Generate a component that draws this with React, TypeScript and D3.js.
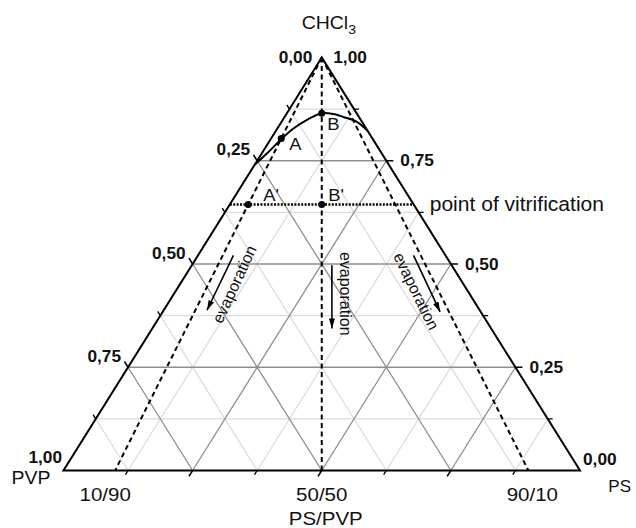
import React from "react";
import * as d3 from "d3";

// tick fractions along every axis
const majorTicks = [0.25, 0.5, 0.75];
const minorTicks = [0.125, 0.375, 0.625, 0.875];

// labelled values on the two side axes
const sideValues = [0, 0.25, 0.5, 0.75, 1];
const leftLabels = ["0,00", "0,25", "0,50", "0,75", "1,00"]; // PVP
const rightLabels = ["1,00", "0,75", "0,50", "0,25", "0,00"]; // CHCl3

// PS/PVP ratios of the dashed composition lines
const ratioLines = [0.1, 0.5, 0.9];
const ratioLabels = ["10/90", "50/50", "90/10"];

// CHCl3 fraction at the point of vitrification
const vitrification = 0.644;

// binodal curve: PS/(PS+PVP) ratio and CHCl3 fraction
const binodalRatio = [0, 0.044, 0.107, 0.182, 0.311, 0.5, 0.67, 0.79, 0.937, 1.0];
const binodalCHCl3 = [0.74, 0.768, 0.804, 0.828, 0.849, 0.865, 0.863, 0.856, 0.844, 0.822];

// marked points
const pointNames = ["A", "B", "A'", "B'"];
const pointRatio = [0.1, 0.5, 0.1, 0.5];
const pointCHCl3 = [0.804, 0.865, vitrification, vitrification];

// evaporation arrows [ratio, CHCl3] start -> end
const arrowStart = [[0.143, 0.521], [0.539, 0.497], [0.871, 0.521]];
const arrowEnd = [[0.137, 0.388], [0.53, 0.344], [0.872, 0.384]];
const evapCenter = [[0.192, 0.451], [0.579, 0.428], [0.823, 0.434]];
const evapAngle = [-65, 90, 64];

const W = 636;
const H = 528;
const font = "'Liberation Sans', Arial, Helvetica, sans-serif";
const stretch = "scale(1.08,1)";

const xS = d3.scaleLinear().domain([0, 1]).range([63.5, 580]);
const yS = d3.scaleLinear().domain([0, 1]).range([470.5, 57.5]);

// position from ratio r = PS/(PS+PVP) and CHCl3 fraction a
const pos = (r: number, a: number): [number, number] => [xS(a / 2 + (1 - a) * r), yS(a)];

const top = pos(0.5, 1);
const left = pos(0, 0);
const right = pos(1, 0);

const unit = (p: [number, number], q: [number, number]) => {
  const dx = q[0] - p[0];
  const dy = q[1] - p[1];
  const l = Math.hypot(dx, dy);
  return [dx / l, dy / l];
};
const leftTickDir = unit(right, top); // up-left, parallel to right side
const bottomTickDir = unit(top, left); // down-left, parallel to left side
const rightTickDir = [1, 0];

const seg = (p: [number, number], q: [number, number]) => `M${p[0]},${p[1]}L${q[0]},${q[1]}`;

const pointLabelOffset: Record<string, [number, number]> = {
  A: [8, 12],
  B: [5.5, 16.5],
  "A'": [15, -4],
  "B'": [6.5, -4],
};

export default function App() {
  const gridPaths = (vals: number[]) =>
    vals
      .map(
        (v) =>
          seg(pos(0, v), pos(1, v)) +
          seg(pos(v, 0), pos(1, 1 - v)) +
          seg(pos(1 - v, 0), pos(0, 1 - v))
      )
      .join("");

  const tickPath = (vals: number[], len: number) =>
    vals
      .map((v) => {
        const pl = pos(0, 1 - v);
        const pr = pos(1, v);
        const pb = pos(v, 0);
        return (
          seg(pl, [pl[0] + leftTickDir[0] * len, pl[1] + leftTickDir[1] * len]) +
          seg(pr, [pr[0] + rightTickDir[0] * len, pr[1]]) +
          seg(pb, [pb[0] + bottomTickDir[0] * len, pb[1] + bottomTickDir[1] * len])
        );
      })
      .join("");

  const binodal = d3
    .line<number>()
    .x((_, i) => pos(binodalRatio[i], binodalCHCl3[i])[0])
    .y((_, i) => pos(binodalRatio[i], binodalCHCl3[i])[1])
    .curve(d3.curveCatmullRom.alpha(0.5))(binodalRatio);

  const tickLabel = { fontFamily: font, fontSize: 16, fontWeight: 700 as const, fill: "#111" };

  return (
    <svg width={W} height={H} style={{ position: "absolute", left: 0, top: 0, background: "#fff" }}>
      <defs>
        <marker id="ah" viewBox="0 0 10 6" refX="10" refY="3" markerWidth="10" markerHeight="6"
          markerUnits="userSpaceOnUse" orient="auto">
          <path d="M0,0L10,3L0,6z" fill="#000" />
        </marker>
      </defs>

      {/* grid */}
      <path d={gridPaths(minorTicks)} stroke="#dcdcdc" strokeWidth={1.3} fill="none" />
      <path d={gridPaths(majorTicks)} stroke="#8e8e8e" strokeWidth={1.3} fill="none" />

      {/* dashed composition lines */}
      {ratioLines.map((r) => (
        <path key={r} d={seg(top, pos(r, 0))} stroke="#000" strokeWidth={2} strokeDasharray="5 3.5" fill="none" />
      ))}

      {/* point of vitrification */}
      <path d={seg(pos(0, vitrification), pos(1, vitrification))} stroke="#000" strokeWidth={2.6}
        strokeDasharray="2 1.4" fill="none" />

      {/* binodal */}
      <path d={binodal ?? ""} stroke="#000" strokeWidth={2} fill="none" />

      {/* triangle */}
      <path d={`M${top[0]},${top[1]}L${left[0]},${left[1]}L${right[0]},${right[1]}Z`} stroke="#000"
        strokeWidth={2} fill="none" strokeLinejoin="miter" />

      {/* ticks */}
      <path d={tickPath(majorTicks, 7)} stroke="#000" strokeWidth={1.6} fill="none" />
      <path d={tickPath(minorTicks, 5)} stroke="#000" strokeWidth={1.4} fill="none" />

      {/* side axis labels */}
      {sideValues.map((v, i) => {
        const p = pos(0, 1 - v);
        let dx = -7, dy = -5.5;
        if (v === 0) { dx = -9.5; dy = 5.5; }
        if (v === 1) { dx = -1.5; dy = -7.5; }
        return (
          <text key={"l" + i} transform={`translate(${p[0] + dx},${p[1] + dy}) ${stretch}`} textAnchor="end" {...tickLabel}>
            {leftLabels[i]}
          </text>
        );
      })}
      {sideValues.map((v, i) => {
        const a = 1 - v;
        const p = pos(1, a);
        let dx = 14, dy = 5.5;
        if (a === 1) { dx = 11.5; dy = 5.5; }
        if (a === 0) { dx = 3; dy = -5.5; }
        return (
          <text key={"r" + i} transform={`translate(${p[0] + dx},${p[1] + dy}) ${stretch}`} textAnchor="start" {...tickLabel}>
            {rightLabels[i]}
          </text>
        );
      })}

      {/* bottom ratio labels */}
      {ratioLines.map((r, i) => {
        const p = pos(r, 0);
        const dx = r < 0.5 ? -10 : r > 0.5 ? 4 : 0;
        return (
          <text key={"b" + i} transform={`translate(${p[0] + dx},${p[1] + 30}) ${stretch}`} textAnchor="middle"
            fontFamily={font} fontSize={19} fill="#111">
            {ratioLabels[i]}
          </text>
        );
      })}

      {/* axis titles */}
      <text transform={`translate(${top[0] - 20},${top[1] - 28.5}) ${stretch}`} fontFamily={font} fontSize={18} fill="#111">
        CHCl<tspan fontSize={13} dy={5}>3</tspan>
      </text>
      <text transform={`translate(${left[0] - 13},${left[1] + 13.5}) ${stretch}`} textAnchor="end" fontFamily={font} fontSize={18} fill="#111">
        PVP
      </text>
      <text transform={`translate(${W - 5},${right[1] + 21.5})`} textAnchor="end" fontFamily={font} fontSize={17} fill="#111">
        PS
      </text>
      <text transform={`translate(${xS(0.5) + 4},${left[1] + 54.5}) ${stretch}`} textAnchor="middle" fontFamily={font} fontSize={19} fill="#111">
        PS/PVP
      </text>
      <text transform={`translate(${pos(1, vitrification)[0] + 16},${pos(1, vitrification)[1] + 6}) ${stretch}`}
        fontFamily={font} fontSize={19.5} fill="#111">
        point of vitrification
      </text>

      {/* points */}
      {pointNames.map((n, i) => {
        const p = pos(pointRatio[i], pointCHCl3[i]);
        const o = pointLabelOffset[n];
        return (
          <g key={n}>
            <circle cx={p[0]} cy={p[1]} r={3.5} fill="#000" />
            <text transform={`translate(${p[0] + o[0]},${p[1] + o[1]}) ${stretch}`} fontFamily={font} fontSize={17} fill="#111">
              {n}
            </text>
          </g>
        );
      })}

      {/* evaporation arrows */}
      {arrowStart.map((s, i) => {
        const p = pos(s[0], s[1]);
        const q = pos(arrowEnd[i][0], arrowEnd[i][1]);
        const c = pos(evapCenter[i][0], evapCenter[i][1]);
        return (
          <g key={"e" + i}>
            <path d={seg(p, q)} stroke="#000" strokeWidth={1.6} markerEnd="url(#ah)" fill="none" />
            <text transform={`translate(${c[0]},${c[1]}) rotate(${evapAngle[i]})`} textAnchor="middle"
              dominantBaseline="central" fontFamily={font} fontSize={16} fill="#111">
              evaporation
            </text>
          </g>
        );
      })}
    </svg>
  );
}
